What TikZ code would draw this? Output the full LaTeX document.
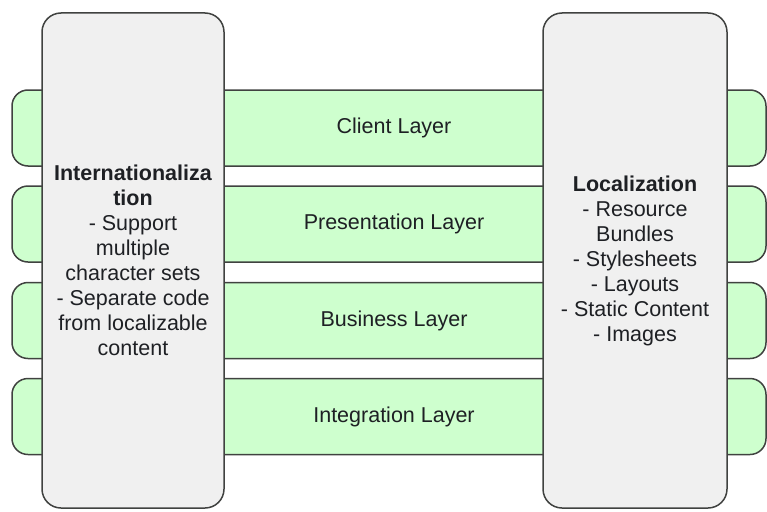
\documentclass[tikz,border=0pt]{standalone}
\usepackage{fontspec}
\setmainfont{Liberation Sans}
\definecolor{layergreen}{RGB}{206,255,206}
\definecolor{pillargray}{RGB}{240,240,240}
\definecolor{edgegray}{RGB}{64,66,64}
\definecolor{textdark}{RGB}{30,32,36}
\tikzset{
  layerbar/.style={draw=edgegray, line width=1.5pt, fill=layergreen, rounded corners=16pt,
    minimum width=754pt, minimum height=76pt, inner sep=0pt},
  pillar/.style={draw=edgegray, line width=1.5pt, fill=pillargray, rounded corners=19pt,
    minimum height=495pt, inner sep=0pt},
  layertext/.style={text=textdark, font=\fontsize{21.5}{25}\selectfont},
  pillartext/.style={text=textdark, align=center, font=\fontsize{21.5}{25}\selectfont}
}
\begin{document}
\begin{tikzpicture}[x=1pt, y=-1pt]
    \useasboundingbox (0,0) rectangle (767,511);

    % Layer bands (drawn first, they run behind both pillars)
    \node[layerbar] (clientbar) at (389, 128) {};
    \node[layerbar] (presbar) at (389, 224) {};
    \node[layerbar] (busbar) at (389, 320.5) {};
    \node[layerbar] (intbar) at (389, 416.5) {};

    % Layer names, centred between the pillars
    \node[layertext, xshift=5pt] (client) at (clientbar.center) {Client Layer};
    \node[layertext, xshift=5pt] (pres) at (presbar.center) {Presentation Layer};
    \node[layertext, xshift=5pt] (bus) at (busbar.center) {Business Layer};
    \node[layertext, xshift=5pt] (integ) at (intbar.center) {Integration Layer};

    % Internationalization pillar on the left
    \node[pillar, minimum width=182pt] (i18n) at (133, 260.5) {};
    \node[pillartext] (i18ntext) at (i18n.center)
        {\textbf{Internationaliza}\\\textbf{tion}\\- Support\\multiple\\character sets\\- Separate code\\from localizable\\content};

    % Localization pillar on the right
    \node[pillar, minimum width=184pt] (l10n) at (635, 260.5) {};
    \node[pillartext] (l10ntext) at (l10n.center)
        {\textbf{Localization}\\- Resource\\Bundles\\- Stylesheets\\- Layouts\\- Static Content\\- Images};

\end{tikzpicture}
\end{document}
